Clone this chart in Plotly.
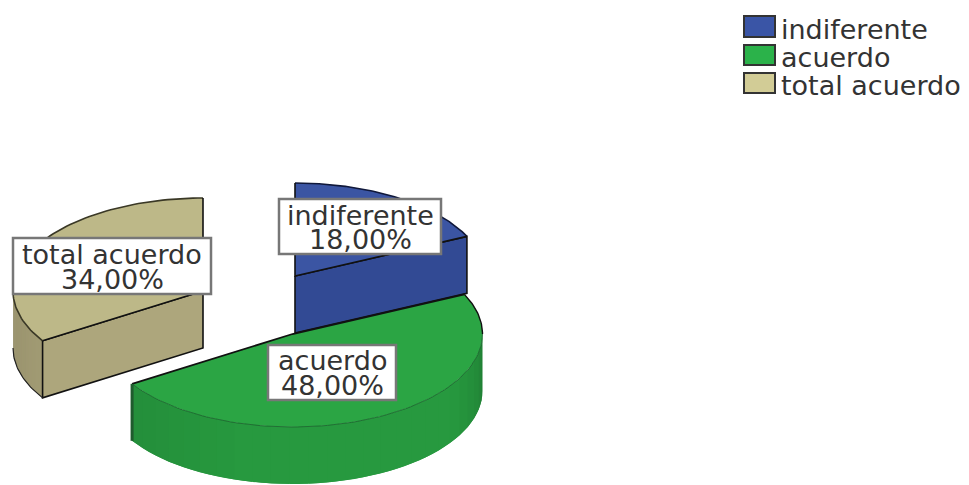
import math
import plotly.graph_objects as go

categories = ["indiferente", "acuerdo", "total acuerdo"]
values = [18.0, 48.0, 34.0]

TOP = ["#3B55A3", "#2BA544", "#BDB888"]
LEGEND = ["#3A55A6", "#2BB24A", "#D2CC96"]
CUT = ["#324A94", "#27993F", "#ADA67C"]
ARC = ["#10183A", "#1B5F2C", "#3A3826"]
CENTER = [(295, 276), (292.5, 334), (203, 291)]
RX, RY, DEPTH = 190, 93, 57
FONT = "DejaVu Sans"
FS = 27
TXT = "#333333"
BOX = [(279, 441, 199, 254), (268, 396, 345, 400), (13, 211, 238, 294)]
LINE_Y = [(215, 239), (360, 385), (254, 279)]
LEG_BOX = [(744, 775, 16, 37), (744, 775, 45, 65), (744, 775, 73, 93)]
LEG_Y = [29, 57, 85]


def pt(c, t, dz=0):
    return c[0] + RX * math.sin(t), c[1] - RY * math.cos(t) + dz


def arc(c, a, b, dz=0, n=80):
    p = [pt(c, a + (b - a) * i / n, dz) for i in range(n + 1)]
    return [q[0] for q in p], [q[1] for q in p]


def mix(hexc, f):
    r, g, b = int(hexc[1:3], 16), int(hexc[3:5], 16), int(hexc[5:7], 16)
    return f"rgb({int(r*f)},{int(g*f)},{int(b*f)})"


fig = go.Figure()


def poly(xs, ys, fill, line=None, w=0):
    fig.add_trace(go.Scatter(
        x=xs, y=ys, mode="lines", fill="toself", fillcolor=fill,
        line=dict(color=line or "rgba(0,0,0,0)", width=w),
        hoverinfo="skip", showlegend=False))


def stroke(xs, ys, col, w=1.6):
    fig.add_trace(go.Scatter(x=xs, y=ys, mode="lines", line=dict(color=col, width=w),
                             hoverinfo="skip", showlegend=False))


def shade(t):
    # darker towards both ends of the visible rim, strongest on the right side
    u = (t - math.pi / 2) / math.pi
    right = max(0.0, 1 - u / 0.22)
    left = max(0.0, 1 - (1 - u) / 0.4)
    return 1 - 0.20 * right ** 1.4 - 0.12 * left


total = sum(values)
spans, s = [], 0.0
for v in values:
    e = s + v / total * 2 * math.pi
    spans.append((s, e))
    s = e

for i in (2, 0, 1):
    c, (a, b) = CENTER[i], spans[i]
    # outer wall: the part of the rim that faces the viewer
    lo, hi = max(a, math.pi / 2), min(b, 3 * math.pi / 2)
    if hi > lo:
        n = 26
        for k in range(n):
            t0 = lo + (hi - lo) * k / n
            # every strip runs on under the next one, so no seam shows
            t1 = lo + (hi - lo) * min(n, k + 2) / n
            xa, ya = arc(c, t0, t1, 0, 4)
            xb, yb = arc(c, t1, t0, DEPTH, 4)
            poly(xa + xb, ya + yb, mix(CUT[i], shade((t0 + t1) / 2)))
    # cut faces
    if i in (0, 2):
        e = pt(c, b if i == 0 else a)
        poly([c[0], e[0], e[0], c[0], c[0]],
             [c[1], e[1], e[1] + DEPTH, c[1] + DEPTH, c[1]], CUT[i], "#111111", 1.6)
    if i == 2:
        ex, ey = arc(c, a, hi, DEPTH, 30)
        stroke(ex, ey, "#222222", 1.2)
    # top face
    ax, ay = arc(c, a, b)
    poly([c[0]] + ax + [c[0]], [c[1]] + ay + [c[1]], TOP[i])
    p, q = pt(c, a), pt(c, b)
    if i == 1:
        sx, sy = arc(c, a, math.pi / 2, 0, 25)
        stroke(sx, sy, "#111111", 1.4)
        fx, fy = arc(c, math.pi / 2, b)
        stroke(fx, fy, ARC[1], 0.8)
        stroke([p[0], c[0], q[0]], [p[1], c[1], q[1]], "#111111", 1.8)
        stroke([q[0], q[0]], [q[1], q[1] + DEPTH], "#1F5B2E", 3)
    else:
        stroke(ax, ay, ARC[i], 1.6)
        stroke([q[0], c[0], p[0]], [q[1], c[1], p[1]], "#111111", 1.6)

shapes, notes = [], []
for i, name in enumerate(categories):
    x0, x1, y0, y1 = BOX[i]
    shapes.append(dict(type="rect", xref="x", yref="y", x0=x0, x1=x1, y0=y0, y1=y1,
                       fillcolor="white", line=dict(color="#777777", width=2.5), layer="above"))
    xm = (x0 + x1) / 2
    label = f"{values[i]:.2f}%".replace(".", ",")
    for txt, yy in zip((name, label), LINE_Y[i]):
        notes.append(dict(x=xm, y=yy, xref="x", yref="y", text=txt, showarrow=False,
                          xanchor="center", yanchor="middle",
                          font=dict(family=FONT, size=FS, color=TXT)))
    x0, x1, y0, y1 = LEG_BOX[i]
    shapes.append(dict(type="rect", xref="x", yref="y", x0=x0, x1=x1, y0=y0, y1=y1,
                       fillcolor=LEGEND[i], line=dict(color="#333333", width=2), layer="above"))
    notes.append(dict(x=779, y=LEG_Y[i], xref="x", yref="y", text=name, showarrow=False,
                      xanchor="left", yanchor="middle",
                      font=dict(family=FONT, size=FS, color=TXT)))

fig.update_layout(
    width=969, height=485, margin=dict(l=0, r=0, t=0, b=0),
    paper_bgcolor="white", plot_bgcolor="white", showlegend=False,
    xaxis=dict(range=[0, 969], visible=False, fixedrange=True),
    yaxis=dict(range=[485, 0], visible=False, fixedrange=True),
    shapes=shapes, annotations=notes,
)
fig.write_html("out.html", config={"displayModeBar": False},
               post_script="document.body.style.margin='0';document.body.style.overflow='hidden';")
